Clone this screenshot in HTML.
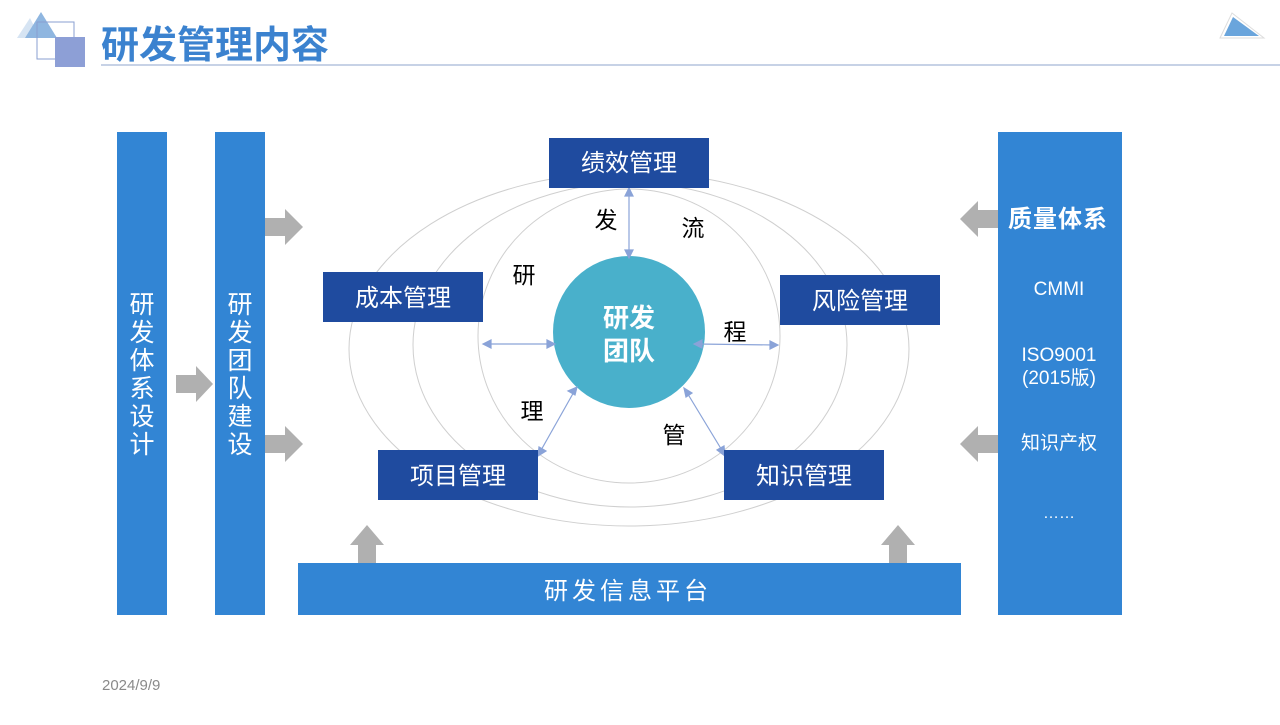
<!DOCTYPE html>
<html><head><meta charset="utf-8"><style>
body{margin:0;width:1280px;height:720px;background:#fff;overflow:hidden;font-family:"Liberation Sans","Noto Sans CJK SC",sans-serif}
svg text{font-family:"Liberation Sans","Noto Sans CJK SC",sans-serif}
</style></head><body>
<svg width="1280" height="720" viewBox="0 0 1280 720" xmlns="http://www.w3.org/2000/svg">
<polygon points="17,38 30,18 40,38" fill="#d6e4f3"/>
<polygon points="25,38 41,12 57,38" fill="#8fb6e0"/>
<rect x="37" y="22" width="37" height="37" fill="none" stroke="#8a9fd0" stroke-width="1"/>
<rect x="55" y="37" width="30" height="30" fill="#8d9fd6"/>
<text x="101" y="58" font-size="38" font-weight="bold" fill="#3b82cf">研发管理内容</text>
<line x1="101" y1="65" x2="1280" y2="65" stroke="#8fa6cc" stroke-width="1"/>
<polygon points="1220,38 1232,13 1264,38" fill="#fff" stroke="#ddd" stroke-width="1"/>
<polygon points="1224,36 1233,17 1259,36" fill="#6aa5dc"/>

<rect x="117" y="132" width="50" height="483" fill="#3285d4"/>
<rect x="215" y="132" width="50" height="483" fill="#3285d4"/>
<g fill="#fff" font-size="25" text-anchor="middle">
<text x="142" y="313">研</text><text x="142" y="341">发</text><text x="142" y="369">体</text><text x="142" y="397">系</text><text x="142" y="425">设</text><text x="142" y="453">计</text>
<text x="240" y="313">研</text><text x="240" y="341">发</text><text x="240" y="369">团</text><text x="240" y="397">队</text><text x="240" y="425">建</text><text x="240" y="453">设</text>
</g>
<rect x="998" y="132" width="124" height="483" fill="#3285d4"/>
<g fill="#fff" text-anchor="middle">
<text x="1058" y="227" font-size="24" font-weight="bold" letter-spacing="1">质量体系</text>
<text x="1059" y="295" font-size="19">CMMI</text>
<text x="1059" y="361" font-size="19">ISO9001</text>
<text x="1059" y="384" font-size="19">(2015版)</text>
<text x="1059" y="449" font-size="19">知识产权</text>
<text x="1059" y="518" font-size="16">……</text>
</g>
<rect x="298" y="563" width="663" height="52" fill="#3285d4"/>
<text x="628" y="599" font-size="24" fill="#fff" text-anchor="middle" letter-spacing="4">研发信息平台</text>

<g fill="#b0b0b0">
<polygon points="265,218 285,218 285,209 303,227 285,245 285,236 265,236"/>
<polygon points="265,435 285,435 285,426 303,444 285,462 285,453 265,453"/>
<polygon points="176,375 196,375 196,366 213,384 196,402 196,393 176,393"/>
<polygon points="998,210 978,210 978,201 960,219 978,237 978,228 998,228"/>
<polygon points="998,435 978,435 978,426 960,444 978,462 978,453 998,453"/>
<polygon points="358,563 358,545 350,545 367,525 384,545 376,545 376,563"/>
<polygon points="889,563 889,545 881,545 898,525 915,545 907,545 907,563"/>
</g>

<g fill="none" stroke="#cfcfcf" stroke-width="1">
<ellipse cx="629" cy="349" rx="280" ry="177"/>
<ellipse cx="630" cy="345" rx="217" ry="162"/>
<ellipse cx="629" cy="336" rx="151" ry="147"/>
</g>
<circle cx="629" cy="332" r="76" fill="#49b0cb"/>
<text x="629" y="327" font-size="26" font-weight="bold" fill="#fff" text-anchor="middle">研发</text>
<text x="629" y="360" font-size="26" font-weight="bold" fill="#fff" text-anchor="middle">团队</text>

<g stroke="#8aa3d8" stroke-width="1.2" fill="#8aa3d8">
<line x1="629" y1="191" x2="629" y2="256"/>
<polygon points="629,188 625,196 633,196"/><polygon points="629,258 625,250 633,250"/>
<line x1="486" y1="344" x2="552" y2="344"/>
<polygon points="483,344 491,340 491,348"/><polygon points="555,344 547,340 547,348"/>
<line x1="697" y1="344" x2="775" y2="345"/>
<polygon points="694,344 702,340 702,348"/><polygon points="778,345 770,341 770,349"/>
<line x1="540" y1="452" x2="575" y2="390"/>
<polygon points="538,456 539,447 546,451"/><polygon points="577,387 568,391 575,395"/>
<line x1="686" y1="391" x2="723" y2="452"/>
<polygon points="684,388 686,397 692,393"/><polygon points="725,456 717,450 724,446"/>
</g>

<g fill="#1f4b9f">
<rect x="549" y="138" width="160" height="50"/>
<rect x="323" y="272" width="160" height="50"/>
<rect x="780" y="275" width="160" height="50"/>
<rect x="378" y="450" width="160" height="50"/>
<rect x="724" y="450" width="160" height="50"/>
</g>
<g fill="#fff" font-size="24" text-anchor="middle">
<text x="629" y="171">绩效管理</text>
<text x="403" y="306">成本管理</text>
<text x="860" y="309">风险管理</text>
<text x="458" y="484">项目管理</text>
<text x="804" y="484">知识管理</text>
</g>
<g fill="#000" font-size="23" text-anchor="middle">
<text x="606" y="228">发</text>
<text x="693" y="236">流</text>
<text x="524" y="283">研</text>
<text x="735" y="340">程</text>
<text x="532" y="419">理</text>
<text x="674" y="443">管</text>
</g>
<text x="102" y="690" font-size="15" fill="#8a8a8a">2024/9/9</text>
</svg>
</body></html>
